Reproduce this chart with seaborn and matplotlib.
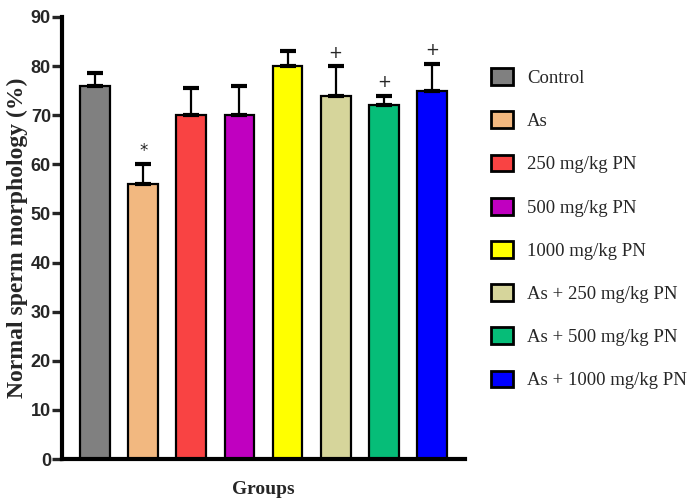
import matplotlib
matplotlib.use("Agg")
import matplotlib.pyplot as plt
import seaborn as sns
import pandas as pd
from matplotlib.patches import Patch

groups = ["Control", "As", "250 mg/kg PN", "500 mg/kg PN", "1000 mg/kg PN",
          "As + 250 mg/kg PN", "As + 500 mg/kg PN", "As + 1000 mg/kg PN"]
means = [76, 56, 70, 70, 80, 74, 72, 75]
sd = [2.5, 4, 5.5, 6, 3, 6, 2, 5.5]
marks = ["", "*", "", "", "", "+", "+", "+"]
colors = ["#808080", "#F2B880", "#F94343", "#C000C0", "#FFFF00",
          "#D6D59B", "#06BD78", "#0000FF"]
yticks = [0, 10, 20, 30, 40, 50, 60, 70, 80, 90]

sns.set_theme(style="white")
plt.rcParams["font.family"] = ["Liberation Serif", "DejaVu Serif"]

df = pd.DataFrame({"group": groups, "mean": means})

fig = plt.figure(figsize=(6.99, 4.99), dpi=100)
ax = fig.add_axes([0.0887, 0.080, 0.5765, 0.886])

sns.barplot(data=df, x="group", y="mean", hue="group", palette=colors,
            order=groups, hue_order=groups, dodge=False, legend=False,
            saturation=1, width=0.62, edgecolor="black", linewidth=1.6,
            errorbar=None, ax=ax)

xs = range(len(groups))
ax.errorbar(xs, means, yerr=[[0] * len(sd), sd], fmt="none", ecolor="black",
            elinewidth=1.6, capsize=6, capthick=3, zorder=1)

for x, m, s, t in zip(xs, means, sd, marks):
    if t:
        ax.text(x, m + s + 0.9, t, ha="center", va="bottom", fontsize=12,
                family=["DejaVu Sans"])

ax.set_xlim(-0.69, 7.69)
ax.set_ylim(0, 90)
ax.set_yticks(yticks)
ax.set_yticklabels([str(v) for v in yticks],
                   family=["Liberation Sans Narrow", "Liberation Sans"],
                   fontweight="bold", fontsize=13)
ax.set_xticks([])
ax.tick_params(axis="y", direction="out", length=7, width=2.4, pad=1, left=True)
for side in ["top", "right"]:
    ax.spines[side].set_visible(False)
for side in ["left", "bottom"]:
    ax.spines[side].set_linewidth(3)
    ax.spines[side].set_color("black")

ax.set_xlabel("Groups", fontsize=14, fontweight="bold", labelpad=16)
ax.set_ylabel("Normal sperm morphology (%)", fontsize=17, fontweight="bold",
              labelpad=2)

handles = [Patch(facecolor=c, edgecolor="black", linewidth=2, label=g)
           for c, g in zip(colors, groups)]
fig.legend(handles=handles, loc="upper left", bbox_to_anchor=(0.679, 0.897),
           frameon=False, fontsize=13.5, handlelength=1.15, handleheight=1.0,
           handletextpad=0.75, labelspacing=1.3)

fig.savefig("out.png", dpi=100)
